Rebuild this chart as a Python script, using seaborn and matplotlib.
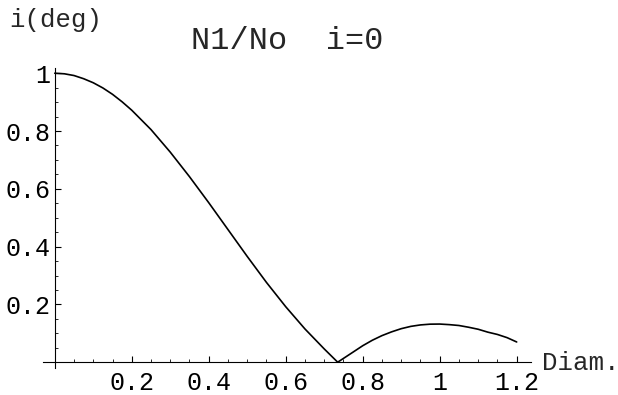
import matplotlib
matplotlib.use("Agg")
import matplotlib.pyplot as plt
import seaborn as sns
import pandas as pd
from matplotlib.ticker import MultipleLocator, FixedLocator

sns.set_style("white")
plt.rcParams['font.family'] = ['Liberation Mono', 'DejaVu Sans Mono']

diam = [0.0, 0.025, 0.05, 0.075, 0.10, 0.125, 0.15, 0.175, 0.20, 0.25, 0.30,
        0.35, 0.40, 0.45, 0.50, 0.55, 0.60, 0.65, 0.70, 0.735,
        0.775, 0.80, 0.825, 0.85, 0.875, 0.90, 0.925, 0.95, 0.975, 1.00,
        1.025, 1.05, 1.075, 1.10, 1.125, 1.15, 1.175, 1.20]
ratio = [1.0, 0.998, 0.992, 0.981, 0.967, 0.949, 0.927, 0.901, 0.872, 0.805, 0.727,
         0.642, 0.552, 0.459, 0.366, 0.276, 0.192, 0.115, 0.046, 0.0,
         0.035, 0.057, 0.076, 0.092, 0.105, 0.116, 0.124, 0.129, 0.1316, 0.132,
         0.130, 0.127, 0.121, 0.114, 0.104, 0.096, 0.085, 0.070]
xticks = [0.2, 0.4, 0.6, 0.8, 1.0, 1.2]
xticklabels = ["0.2", "0.4", "0.6", "0.8", "1", "1.2"]
yticks = [0.2, 0.4, 0.6, 0.8, 1.0]
yticklabels = ["0.2", "0.4", "0.6", "0.8", "1"]

df = pd.DataFrame({"diam": diam, "ratio": ratio})

fig = plt.figure(figsize=(6.18, 3.95), dpi=100)
ax = fig.add_axes([0.0693, 0.0684, 0.7898, 0.7594])
sns.lineplot(data=df, x="diam", y="ratio", ax=ax, color="black", linewidth=1.2)

ax.set_xlim(-0.031, 1.237)
ax.set_ylim(-0.02, 1.018)
for s in ["top", "right"]:
    ax.spines[s].set_visible(False)
ax.spines["left"].set_position(("data", 0))
ax.spines["bottom"].set_position(("data", 0))
for s in ["left", "bottom"]:
    ax.spines[s].set_color("black")
    ax.spines[s].set_linewidth(0.8)

ax.xaxis.set_major_locator(FixedLocator(xticks))
ax.set_xticklabels(xticklabels)
ax.yaxis.set_major_locator(FixedLocator(yticks))
ax.set_yticklabels(yticklabels)
ax.xaxis.set_minor_locator(MultipleLocator(0.05))
ax.yaxis.set_minor_locator(MultipleLocator(0.05))
ax.tick_params(axis="x", which="major", direction="in", length=4, width=0.8,
               pad=6, labelsize=18, bottom=True, colors="black")
ax.tick_params(axis="x", which="minor", direction="in", length=2, width=0.7, bottom=True)
ax.tick_params(axis="y", which="major", direction="in", length=4, width=0.8,
               pad=3, labelsize=18, left=True, colors="black")
ax.tick_params(axis="y", which="minor", direction="in", length=2, width=0.7, left=True)
ax.set_xlabel("")
ax.set_ylabel("")
ax.grid(False)

fig.text(287 / 618, 1 - 49 / 395, "N1/No  i=0", ha="center", va="baseline", fontsize=23)
fig.text(9 / 618, 1 - 27 / 395, "i(deg)", ha="left", va="baseline", fontsize=18.5)
fig.text(542 / 618, 1 - 370 / 395, "Diam.", ha="left", va="baseline", fontsize=18.5)

fig.savefig("out.png", dpi=100, facecolor="white")
